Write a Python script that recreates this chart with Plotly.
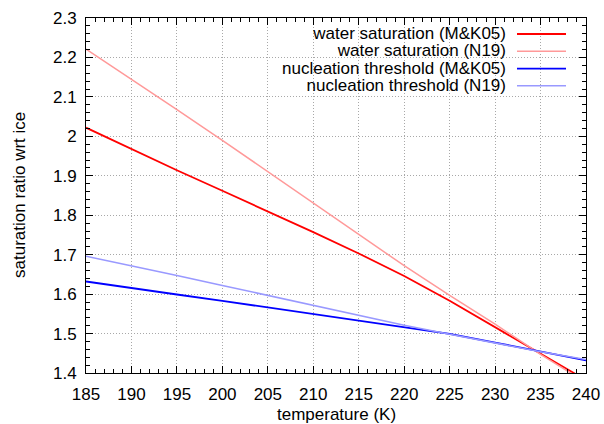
import plotly.graph_objects as go

# ---- data ----
temperature = [185, 190, 195, 200, 205, 210, 215, 220, 225, 230, 235, 240]
water_sat_mk05 = [2.022, 1.967, 1.914, 1.862, 1.810, 1.757, 1.703, 1.646, 1.583, 1.516, 1.449, 1.382]
water_sat_n19 = [2.221, 2.145, 2.068, 1.990, 1.910, 1.830, 1.752, 1.672, 1.597, 1.524, 1.447, 1.376]
nucl_mk05 = [1.632, 1.615, 1.599, 1.583, 1.566, 1.550, 1.533, 1.516, 1.499, 1.477, 1.454, 1.432]
nucl_n19 = [1.696, 1.672, 1.647, 1.622, 1.597, 1.572, 1.546, 1.521, 1.498, 1.476, 1.454, 1.434]

series_names = ["water saturation (M&K05)", "water saturation (N19)",
                "nucleation threshold (M&K05)", "nucleation threshold (N19)"]
series_values = [water_sat_mk05, water_sat_n19, nucl_mk05, nucl_n19]
series_colors = ["#ff0000", "#ff9999", "#0000ff", "#9999ff"]
series_widths = [1.8, 1.5, 1.8, 1.5]

x_title = "temperature (K)"
y_title = "saturation ratio wrt ice"

FONT = "Liberation Sans, Arial, sans-serif"
W, H = 604, 424
L, R, T, B = 86, 18, 18, 51

fig = go.Figure()
for name, vals, col, lw in zip(series_names, series_values, series_colors, series_widths):
    fig.add_trace(go.Scatter(x=temperature, y=vals, mode="lines", name=name,
                             line=dict(color=col, width=lw), showlegend=False))

axis_common = dict(
    showline=True, linecolor="black", linewidth=1, mirror="allticks",
    ticks="inside", tickcolor="black", tickwidth=1,
    showgrid=True, gridcolor="#a8a8a8", griddash="1px,2px", gridwidth=1,
    zeroline=False, tickfont=dict(family=FONT, size=17, color="black"),
)

fig.update_xaxes(range=[185, 240], tick0=185, dtick=5, ticklen=7, ticklabelstandoff=6,
                 minor=dict(dtick=1, ticks="inside", ticklen=4, tickcolor="black", showgrid=False),
                 **axis_common)
fig.update_yaxes(range=[1.4, 2.3], tick0=1.4, dtick=0.1, ticklen=7, ticklabelstandoff=5,
                 minor=dict(dtick=0.02, ticks="inside", ticklen=4, tickcolor="black", showgrid=False),
                 **axis_common)

pw = W - L - R
ph = H - T - B

def px(x):
    return (x - L) / pw

def py(y):
    return 1 - (y - T) / ph

shapes = []
annotations = []
# opaque key box
shapes.append(dict(type="rect", xref="paper", yref="paper", layer="between",
                   x0=px(219), x1=1, y0=py(94), y1=1,
                   fillcolor="white", line=dict(width=0)))
row_y = [34, 51.3, 68.7, 85.7]
# key text as one block: base size sets the line pitch (1.3 * 13.3 ≈ 17.3 px)
key_text = "<br>".join('<span style="font-size:17px">%s</span>' % n for n in series_names)
annotations.append(dict(xref="paper", yref="paper", x=px(507), y=py(sum(row_y) / 4),
                        xanchor="right", yanchor="middle", align="right",
                        text=key_text, showarrow=False, borderpad=0,
                        font=dict(family=FONT, size=13.3, color="black")))
for col, lw, ry in zip(series_colors, series_widths, row_y):
    shapes.append(dict(type="line", xref="paper", yref="paper",
                       x0=px(517), x1=px(566), y0=py(ry), y1=py(ry),
                       line=dict(color=col, width=lw)))

annotations.append(dict(xref="paper", yref="paper", x=0.5, y=py(414),
                        xanchor="center", yanchor="middle", text=x_title, showarrow=False,
                        font=dict(family=FONT, size=17, color="black")))
annotations.append(dict(xref="paper", yref="paper", x=px(19), y=py(195),
                        xanchor="center", yanchor="middle", text=y_title, showarrow=False,
                        textangle=-90, font=dict(family=FONT, size=17, color="black")))

fig.update_layout(width=W, height=H, autosize=False,
                  margin=dict(l=L, r=R, t=T, b=B, pad=0, autoexpand=False),
                  paper_bgcolor="white", plot_bgcolor="white",
                  shapes=shapes, annotations=annotations,
                  font=dict(family=FONT, size=17, color="black"))

fig.write_html("out.html", config={"responsive": False},
               post_script="document.body.style.margin='0';document.body.style.overflow='hidden';")
